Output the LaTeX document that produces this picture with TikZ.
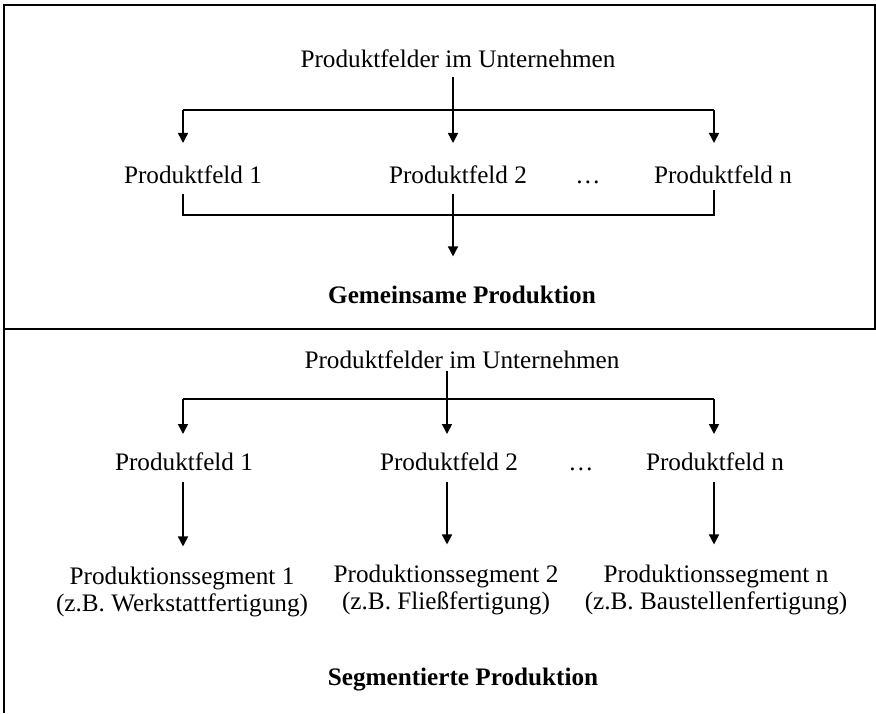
\documentclass[tikz,border=0pt]{standalone}
\usepackage{fontspec}
\setmainfont{Liberation Serif}
\usetikzlibrary{arrows.meta}

\begin{document}
\begin{tikzpicture}[x=0.5pt, y=-0.5pt,
    every node/.style={font=\fontsize{12.6pt}{13.5pt}\selectfont, anchor=base},
    frame/.style={line width=1pt},
    bar/.style={line width=1pt},
    arr/.style={line width=0.75pt, -{Triangle[length=5pt,width=5pt]}},
    seg/.style={align=center}]
  \useasboundingbox (0,0) rectangle (876,713);

  % frame
  \draw[frame] (4,713) -- (4,5) -- (875,5) -- (875,329);
  \draw[frame] (4,329) -- (876,329);

  % upper part: one production for all fields
  \node (top) at (458,67) {Produktfelder im Unternehmen};
  \coordinate (jt1) at (183,110);
  \coordinate (jt0) at (453,110);
  \coordinate (jtn) at (714,110);
  \node (tf1) at (193,183) {Produktfeld 1};
  \node (tf2) at (458,183) {Produktfeld 2};
  \node (tdots) at (588,183) {\dots};
  \node (tfn) at (723,183) {Produktfeld n};
  \coordinate (kt1) at (183,215);
  \coordinate (kt0) at (453,215);
  \coordinate (ktn) at (714,215);
  \node[font=\fontsize{12.6pt}{13.5pt}\selectfont\bfseries] (tsum) at (462,303) {Gemeinsame Produktion};

  \draw[bar] (jt1) -- (jtn);
  \draw[arr, shorten <=1.3pt, shorten >=7.6pt] (top.south -| jt0) -- (jt0 |- tf2.north);
  \draw[arr, shorten >=7.6pt] (jt1) -- (jt1 |- tf1.north);
  \draw[arr, shorten >=7.6pt] (jtn) -- (jtn |- tfn.north);
  \draw[bar, shorten <=1.8pt] (tf1.south -| kt1) -- (kt1) -- (ktn) -- (tfn.south -| ktn);
  \draw[arr, shorten <=1.8pt, shorten >=11pt] (tf2.south -| kt0) -- (kt0 |- tsum.north);

  % lower part: one segment per field
  \node (btop) at (462,368) {Produktfelder im Unternehmen};
  \coordinate (jb1) at (183,399);
  \coordinate (jb0) at (447,399);
  \coordinate (jbn) at (714,399);
  \node (bf1) at (184,470) {Produktfeld 1};
  \node (bf2) at (449,470) {Produktfeld 2};
  \node (bdots) at (581,470) {\dots};
  \node (bfn) at (715,470) {Produktfeld n};
  \node[seg] (seg1) at (182,611) {Produktionssegment 1\\(z.B. Werkstattfertigung)};
  \node[seg] (seg2) at (446,609) {Produktionssegment 2\\(z.B. Fließfertigung)};
  \node[seg] (segn) at (716,609) {Produktionssegment n\\(z.B. Baustellenfertigung)};
  \node[font=\fontsize{12.6pt}{13.5pt}\selectfont\bfseries] (bsum) at (463,685) {Segmentierte Produktion};

  \draw[bar] (jb1) -- (jbn);
  \draw[arr, shorten <=-2pt, shorten >=5.6pt] (btop.south -| jb0) -- (jb0 |- bf2.north);
  \draw[arr, shorten >=5.6pt] (jb1) -- (jb1 |- bf1.north);
  \draw[arr, shorten >=5.6pt] (jbn) -- (jbn |- bfn.north);
  \draw[arr, shorten <=2.3pt, shorten >=6.5pt] (bf1.south -| jb1) -- (jb1 |- seg1.north);
  \draw[arr, shorten <=2.3pt, shorten >=6.5pt] (bf2.south -| jb0) -- (jb0 |- seg2.north);
  \draw[arr, shorten <=2.3pt, shorten >=6.5pt] (bfn.south -| jbn) -- (jbn |- segn.north);
\end{tikzpicture}
\end{document}
